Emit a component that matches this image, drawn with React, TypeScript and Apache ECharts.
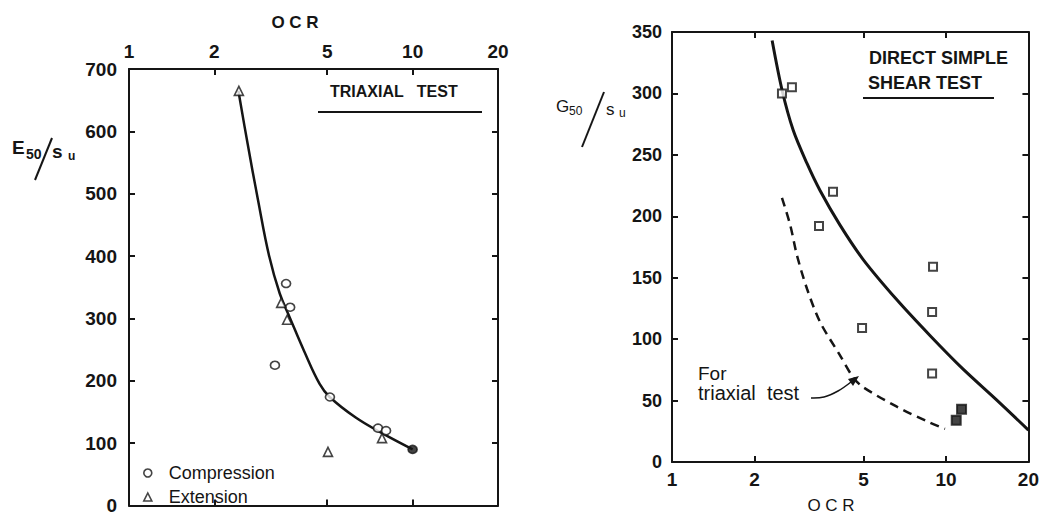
import React, { useEffect, useRef } from "react";
import * as echarts from "echarts";

// ---------- data ----------
const ocrTickLabels = [1, 2, 5, 10, 20];
const ocrInnerTicks = [2, 5, 10];

// Left panel: triaxial test, E50/su vs OCR
const triaxialCurveOCR = [2.43, 2.62, 2.85, 3.12, 3.4, 3.7, 4.15, 4.7, 5.1, 6.3, 7.8, 10];
const triaxialCurveE = [665, 580, 490, 400, 340, 300, 247, 195, 174, 141, 116, 90];

const compressionOCR = [3.58, 3.7, 3.27, 5.11, 7.55, 8.06];
const compressionE = [356, 318, 225, 174, 124, 120];
const compressionFilledOCR = [10];
const compressionFilledE = [90];

const extensionOCR = [2.44, 3.44, 3.61, 7.8, 5.03];
const extensionE = [665, 325, 298, 108, 86];

// Right panel: direct simple shear test, G50/su vs OCR
const dssCurveOCR = [2.32, 2.52, 2.77, 3.11, 3.47, 4.1, 4.98, 6.62, 8.74, 11.5, 15.4, 20];
const dssCurveG = [343, 303, 270, 243, 221, 193, 165, 132, 103, 76, 50, 26];

const triaxialRefOCR = [2.52, 2.7, 2.86, 3.11, 3.47, 4.1, 4.58, 4.98, 6.62, 8.74, 9.92];
const triaxialRefG = [215, 193, 168, 141, 114, 87, 69, 61, 45, 32, 27];

const dssOpenOCR = [2.52, 2.74, 3.87, 3.44, 8.97, 8.9, 4.94, 8.9];
const dssOpenG = [300, 305, 220, 192, 159, 122, 109, 72];
const dssFilledOCR = [10.9, 11.4];
const dssFilledG = [34, 43];

// ---------- helpers ----------
const zip = (xs: number[], ys: number[]) => xs.map((x, i) => [x, ys[i]]);
const L = (v: number) => Math.log10(v);
const INK = "#151515";
const FONT = "Liberation Sans, Arial, sans-serif";

function logDataAxis(grid: number, position: string, showLine: boolean) {
  return {
    type: "log",
    logBase: 10,
    gridIndex: grid,
    position,
    min: 1,
    max: 20,
    axisLine: { show: showLine, onZero: false, lineStyle: { color: INK, width: 2 } },
    axisTick: { show: false },
    axisLabel: { show: false },
    splitLine: { show: false },
    minorTick: { show: false },
  };
}

function tickAxis(grid: number, position: string, showLabels: boolean, showLine: boolean) {
  return {
    type: "value",
    gridIndex: grid,
    position,
    min: 0,
    max: L(20),
    axisLine: { show: showLine, onZero: false, lineStyle: { color: INK, width: 2 } },
    axisTick: {
      show: true,
      inside: true,
      length: 6,
      customValues: ocrInnerTicks.map(L),
      lineStyle: { color: INK, width: 2 },
    },
    axisLabel: {
      show: showLabels,
      customValues: ocrTickLabels.map(L),
      formatter: (v: number) => String(Math.round(Math.pow(10, v))),
      margin: 8,
      color: INK,
      fontSize: 19,
      fontWeight: "bold",
      fontFamily: FONT,
    },
    splitLine: { show: false },
  };
}

function yAxisDef(grid: number, position: string, max: number, interval: number, showLabels: boolean, margin: number, fontSize: number) {
  return {
    type: "value",
    gridIndex: grid,
    position,
    min: 0,
    max,
    interval,
    axisLine: { show: true, onZero: false, lineStyle: { color: INK, width: 2 } },
    axisTick: { show: true, inside: true, length: 6, lineStyle: { color: INK, width: 2 } },
    axisLabel: {
      show: showLabels,
      margin,
      color: INK,
      fontSize,
      fontWeight: "bold",
      fontFamily: FONT,
    },
    splitLine: { show: false },
  };
}

function txt(text: string, x: number, y: number, fontSize: number, extra: any = {}) {
  return {
    type: "text",
    x,
    y,
    silent: true,
    style: {
      text,
      fill: INK,
      fontSize,
      fontFamily: FONT,
      textVerticalAlign: "middle",
      textAlign: "left",
      ...extra,
    },
  };
}

function ln(x1: number, y1: number, x2: number, y2: number, w = 2) {
  return {
    type: "line",
    silent: true,
    shape: { x1, y1, x2, y2 },
    style: { stroke: INK, lineWidth: w },
  };
}

export default function App() {
  const ref = useRef<HTMLDivElement>(null);

  useEffect(() => {
    if (!ref.current) return;
    const chart = echarts.init(ref.current, null, { renderer: "svg" });

    const hollow = { color: "#fff", borderColor: INK, borderWidth: 1.6 };
    const hollowSq = { color: "#fff", borderColor: INK, borderWidth: 2 };

    const option: any = {
      animation: false,
      backgroundColor: "#fff",
      grid: [
        { left: 129, top: 69, width: 369, height: 442, containLabel: false },
        { left: 672, top: 32, width: 357, height: 430, containLabel: false },
      ],
      xAxis: [
        logDataAxis(0, "top", true), // 0 data axis, left panel
        tickAxis(0, "top", true, false), // 1
        tickAxis(0, "bottom", false, true), // 2
        logDataAxis(1, "bottom", true), // 3 data axis, right panel
        tickAxis(1, "bottom", true, false), // 4
        tickAxis(1, "top", false, true), // 5
      ],
      yAxis: [
        yAxisDef(0, "left", 700, 100, true, 12, 19),
        yAxisDef(0, "right", 700, 100, false, 8, 19),
        yAxisDef(1, "left", 350, 50, true, 10, 18),
        yAxisDef(1, "right", 350, 50, false, 8, 18),
      ],
      legend: {
        orient: "vertical",
        left: 138,
        top: 459,
        itemWidth: 8,
        itemHeight: 8,
        itemGap: 6,
        textStyle: { fontSize: 18, fontFamily: FONT, color: INK, padding: [0, 0, 0, 12] },
        data: [
          { name: "Compression", icon: "circle", itemStyle: hollow },
          { name: "Extension", icon: "triangle", itemStyle: hollow },
        ],
      },
      series: [
        {
          name: "Triaxial fit",
          type: "line",
          xAxisIndex: 0,
          yAxisIndex: 0,
          smooth: 0.4,
          showSymbol: false,
          lineStyle: { color: INK, width: 2.5 },
          data: zip(triaxialCurveOCR, triaxialCurveE),
          z: 2,
        },
        {
          name: "Compression",
          type: "scatter",
          xAxisIndex: 0,
          yAxisIndex: 0,
          symbol: "circle",
          symbolSize: [9, 8],
          itemStyle: hollow,
          data: [
            ...zip(compressionOCR, compressionE),
            ...zip(compressionFilledOCR, compressionFilledE).map((v) => ({ value: v, itemStyle: { color: INK } })),
          ],
          z: 3,
        },
        {
          name: "Extension",
          type: "scatter",
          xAxisIndex: 0,
          yAxisIndex: 0,
          symbol: "triangle",
          symbolSize: 9,
          itemStyle: hollow,
          data: zip(extensionOCR, extensionE),
          z: 3,
        },
        {
          name: "DSS fit",
          type: "line",
          xAxisIndex: 3,
          yAxisIndex: 2,
          smooth: 0.3,
          showSymbol: false,
          lineStyle: { color: INK, width: 3 },
          data: zip(dssCurveOCR, dssCurveG),
          z: 2,
        },
        {
          name: "For triaxial test",
          type: "line",
          xAxisIndex: 3,
          yAxisIndex: 2,
          smooth: 0.3,
          showSymbol: false,
          lineStyle: { color: INK, width: 2.5, type: [9, 6] },
          data: zip(triaxialRefOCR, triaxialRefG),
          z: 2,
        },
        {
          name: "DSS data",
          type: "scatter",
          xAxisIndex: 3,
          yAxisIndex: 2,
          symbol: "rect",
          symbolSize: 8,
          itemStyle: hollowSq,
          data: [
            ...zip(dssOpenOCR, dssOpenG),
            ...zip(dssFilledOCR, dssFilledG).map((v) => ({ value: v, symbolSize: 9, itemStyle: { color: INK } })),
          ],
          z: 3,
        },
      ],
      graphic: [
        // left panel titles
        txt("O C R", 295, 22, 17, { textAlign: "center", fontWeight: "bold" }),
        txt("TRIAXIAL   TEST", 330, 91, 16, { fontWeight: "bold" }),
        ln(318, 112, 482, 112, 2),
        // E50/su
        txt("E", 12, 147, 19, { fontWeight: "bold" }),
        txt("50", 26, 154, 14, { fontWeight: "bold" }),
        ln(35, 180, 52, 138, 2),
        txt("s", 52, 151, 19, { fontWeight: "bold" }),
        txt("u", 68, 156, 12, { fontWeight: "bold" }),
        // right panel titles
        txt("DIRECT SIMPLE", 869, 58, 18, { fontWeight: "bold" }),
        txt("SHEAR TEST", 868, 83, 18, { fontWeight: "bold" }),
        ln(863, 98, 994, 98, 2),
        txt("O C R", 831, 505, 17, { textAlign: "center" }),
        // G50/su
        txt("G", 556, 106, 17),
        txt("50", 569, 111, 12),
        ln(582, 147, 604, 92, 2),
        txt("s", 606, 109, 17),
        txt("u", 619, 113, 12),
        // annotation
        txt("For", 698, 373, 19),
        txt("triaxial  test", 698, 393, 20),
        {
          type: "polyline",
          silent: true,
          shape: { points: [[811, 398], [824, 397], [838, 391], [851, 382]], smooth: 0.4 },
          style: { stroke: INK, lineWidth: 1.5, fill: "none" },
        },
        {
          type: "polygon",
          silent: true,
          shape: { points: [[859, 376], [848, 379], [853, 386]] },
          style: { fill: INK },
        },
      ],
    };

    chart.setOption(option);
    return () => chart.dispose();
  }, []);

  return (
    <div
      ref={ref}
      style={{ position: "absolute", left: 0, top: 0, width: 1042, height: 515, background: "#fff" }}
    />
  );
}
